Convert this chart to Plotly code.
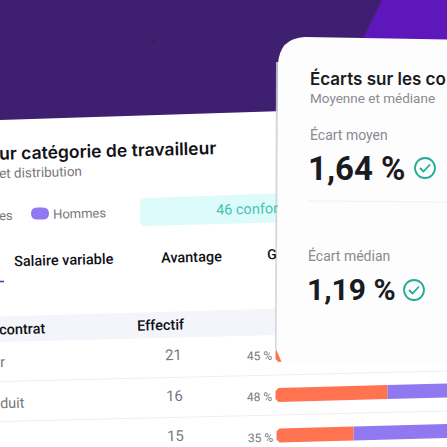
import plotly.graph_objects as go

# ---- data ----
row_labels = ["r", "duit", ""]
effectifs = ["21", "16", "15"]
femmes_labels = ["45 %", "48 %", "35 %"]
femmes_share = [45, 48, 33]      # orange part of each bar
hommes_share = [55, 52, 67]      # purple part of each bar
ecart_moyen = "1,64 %"
ecart_median = "1,19 %"

DARK = "#3F1F70"
BRIGHT = "#5E17BB"
ORANGE = "#FF7350"
PURPLE = "#8F78F0"
TEAL = "#1FAE94"
INK = "#1A1A22"
GREY = "#8A8A90"
MID = "#77777D"

SLOPE = -0.0262        # the back panel is tilted by about 1.5 degrees
ANGLE = -1.5
BAR_X0, BAR_H, BAR_W = 275.5, 14, 233
row_y = [355, 395, 435.5]
row_x_shift = [0, 0, 1]

fig = go.Figure()


def bar_seg(x0, x1, yc, color, round_left):
    h = BAR_H / 2
    yt = lambda x: yc + (x - BAR_X0) * SLOPE
    if round_left:
        xs = [x0 + 3, x1, x1, x0 + 3, x0, x0, x0 + 3]
        ys = [yt(x0 + 3) - h, yt(x1) - h, yt(x1) + h, yt(x0 + 3) + h,
              yt(x0) + h - 3, yt(x0) - h + 3, yt(x0 + 3) - h]
    else:
        xs = [x0, x1, x1, x0, x0]
        ys = [yt(x0) - h, yt(x1) - h, yt(x1) + h, yt(x0) + h, yt(x0) - h]
    fig.add_trace(go.Scatter(x=xs, y=ys, mode="lines", fill="toself", fillcolor=color,
                             line=dict(width=0, color=color), hoverinfo="skip", showlegend=False))


for f, m, yc, dx in zip(femmes_share, hommes_share, row_y, row_x_shift):
    x0 = BAR_X0 + dx
    split = x0 + f / 100 * BAR_W
    bar_seg(split, split + m / 100 * BAR_W, yc, PURPLE, False)
    bar_seg(x0, split, yc, ORANGE, True)


def poly(pts):
    return "M " + " L ".join(f"{x},{y}" for x, y in pts) + " Z"


shapes = [
    dict(type="path", path=poly([(0, 0), (447, 0), (447, 130), (0, 130)]),
         fillcolor=DARK, line_width=0, layer="below"),
    dict(type="path", path=poly([(382, 0), (447, 0), (447, 45), (360, 45)]),
         fillcolor=BRIGHT, line_width=0, layer="below"),
    dict(type="path", path=poly([(0, 120), (300, 110.5), (447, 106), (447, 447), (0, 447)]),
         fillcolor="#FFFFFF", line_width=0, layer="below"),
    # badge
    dict(type="path",
         path="M 146,198 L 290,193 L 290,222 L 146,226 Q 140,226 140,220 L 140,204 Q 140,198 146,198 Z",
         fillcolor="#DDFBFB", line_width=0, layer="below"),
    # legend pill
    dict(type="path",
         path="M 37,207.5 L 43,207.5 Q 49,207.5 49,213.5 Q 49,219.5 43,219.5 L 37,219.5 Q 31,219.5 31,213.5 Q 31,207.5 37,207.5 Z",
         fillcolor=PURPLE, line_width=0, layer="below"),
    # tab underline
    dict(type="line", x0=0, x1=4, y0=281.5, y1=281.5, line=dict(color="#6A1FC9", width=1.5), layer="below"),
    # header band
    dict(type="path", path=poly([(0, 316.5), (300, 308), (300, 334.5), (0, 342)]),
         fillcolor="#F4F5FA", line_width=0, layer="below"),
    # row separators
    dict(type="line", x0=0, x1=447, y0=381.5, y1=371, line=dict(color="#EFEFF2", width=1), layer="below"),
    dict(type="line", x0=0, x1=447, y0=421.5, y1=411, line=dict(color="#EFEFF2", width=1), layer="below"),
    # card shadow + card (above the bars, below the annotations)
    dict(type="path",
         path="M 275,350 L 276,62 L 280,62 L 279,350 Z",
         fillcolor="rgba(205,205,210,0.85)", line_width=0, layer="above"),
    dict(type="path",
         path="M 281.5,362 L 276.5,350 L 278,65 Q 279,38 305,37 L 447,39.5 L 447,362 Z",
         fillcolor="#FDFDFE", line_width=0, layer="above"),
    # separator in the card
    dict(type="line", x0=308, x1=447, y0=201, y1=202, line=dict(color="#F1F1F3", width=1), layer="above"),
]

for cx, cy in [(425, 168), (414, 290)]:
    shapes.append(dict(type="circle", x0=cx - 10, x1=cx + 10, y0=cy - 10, y1=cy + 10,
                       line=dict(color=TEAL, width=1.8), fillcolor="rgba(0,0,0,0)", layer="above"))
    shapes.append(dict(type="path",
                       path=f"M {cx-5},{cy} L {cx-1.5},{cy+3.5} L {cx+5},{cy-3.5}",
                       line=dict(color=TEAL, width=1.8), layer="above"))


def txt(x, y, s, size, color, fam="Roboto", angle=ANGLE, weight=None):
    # the texts sit about 2 px right of the anchor; xshift also lets them start beyond the left edge
    fig.add_annotation(x=0.5, y=y, xshift=x - 0.5 - 2, text=s, showarrow=False,
                       xanchor="left", yanchor="middle",
                       textangle=angle, xref="x", yref="y",
                       font=dict(family=fam, size=size, color=color,
                                 **({"weight": weight} if weight else {})))


# back panel text
txt(-1, 150, "ur catégorie de travailleur", 17.5, "#111118", "Inter", weight=600)
txt(-1, 172, "et distribution", 13.5, MID)
txt(-1, 215, "es", 13, MID)
txt(53, 213, "Hommes", 13, MID)
txt(216, 209, "46 confor", 14.5, "#46C4B2")
txt(14, 260, "Salaire variable", 14.5, "#111118", weight=500)
txt(161, 257, "Avantage", 14.5, "#111118", weight=500)
txt(267, 254, "G", 14, "#111118", weight=500)
txt(-1, 329, "contrat", 14.5, "#111118", weight=500)
txt(137, 325, "Effectif", 14.5, "#111118", weight=500)

label_y = [362, 403, 445]
eff_x = [165, 166, 167]
eff_y = [355, 396, 436]
pct_x = [247, 247, 248]
pct_y = [356, 397, 438]
for i in range(3):
    if row_labels[i]:
        txt(0, label_y[i], row_labels[i], 14.5, MID)
    txt(eff_x[i], eff_y[i], effectifs[i], 15, MID)
    txt(pct_x[i], pct_y[i], femmes_labels[i], 12, MID)

# card text
txt(310, 78, "Écarts sur les co", 17, INK, "Inter", angle=0, weight=600)
txt(310, 98, "Moyenne et médiane", 13.5, GREY, angle=0)
txt(310, 134, "Écart moyen", 14, GREY, angle=0)
txt(308, 168, ecart_moyen, 33, INK, angle=0, weight=700)
txt(307, 289, ecart_median, 30, INK, angle=0, weight=700)
txt(308, 255, "Écart médian", 14, GREY, angle=0)
txt(150, 40, "x", 10, "#351A62", angle=0)

fig.update_layout(
    width=447, height=447, autosize=False,
    margin=dict(l=0, r=0, t=0, b=0),
    paper_bgcolor="#FFFFFF", plot_bgcolor="#FFFFFF",
    showlegend=False, shapes=shapes,
    xaxis=dict(range=[0, 447], visible=False, fixedrange=True),
    yaxis=dict(range=[447, 0], visible=False, fixedrange=True),
)
fig.write_html("out.html", config={"displayModeBar": False},
               post_script="document.body.style.margin='0';document.body.style.overflow='hidden';")
